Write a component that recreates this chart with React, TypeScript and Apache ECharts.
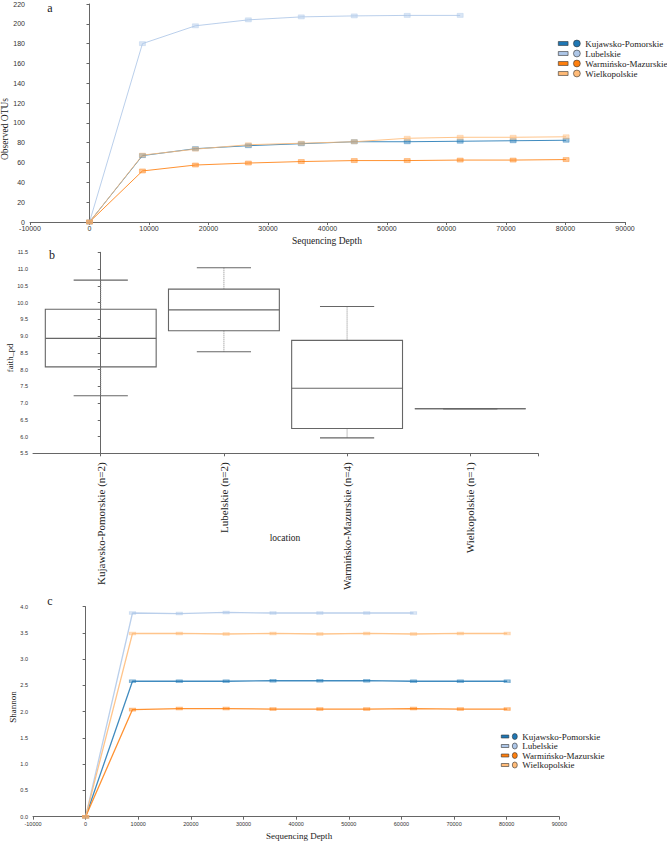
import React, { useEffect, useRef } from "react";
import * as echarts from "echarts";

const regions = ["Kujawsko-Pomorskie", "Lubelskie", "Warmińsko-Mazurskie", "Wielkopolskie"];
const colors = ["#1f77b4", "#aec7e8", "#ff7f0e", "#ffbb78"];

const depths = [0, 8900, 17800, 26700, 35600, 44500, 53400, 62300, 71200, 80100];

const otuKujawsko = [0, 67, 74, 77, 79, 81, 81, 81.5, 82, 82.5];
const otuLubelskie = [0, 180, 198, 204, 207, 208, 208.5, 208.5];
const otuWarminsko = [0, 51.5, 57.5, 59.5, 61, 62, 62, 62.5, 62.5, 63];
const otuWielkopolskie = [0, 67.5, 73.5, 78, 79.5, 81, 84.5, 85.5, 85.5, 86];

const boxCategories = [
  "Kujawsko-Pomorskie (n=2)",
  "Lubelskie (n=2)",
  "Warmińsko-Mazurskie (n=4)",
  "Wielkopolskie (n=1)",
];
// [min, q1, median, q3, max]
const faithKujawsko = [7.22, 8.08, 8.93, 9.8, 10.67];
const faithLubelskie = [8.53, 9.16, 9.78, 10.4, 11.04];
const faithWarminsko = [5.96, 6.24, 7.44, 8.87, 9.88];
const faithWielkopolskie = [6.83, 6.83, 6.83, 6.83, 6.83];

const shannonKujawsko = [0, 2.58, 2.58, 2.58, 2.59, 2.59, 2.59, 2.58, 2.58, 2.58];
const shannonLubelskie = [0, 3.88, 3.87, 3.89, 3.88, 3.88, 3.88, 3.88];
const shannonWarminsko = [0, 2.04, 2.06, 2.06, 2.05, 2.05, 2.05, 2.06, 2.05, 2.05];
const shannonWielkopolskie = [0, 3.49, 3.49, 3.48, 3.49, 3.48, 3.49, 3.48, 3.49, 3.49];

const depthTicks = { min: -10000, max: 90000, interval: 10000 };

const SERIF = "'Liberation Serif', 'Times New Roman', serif";
const SANS = "'Liberation Sans', Arial, sans-serif";

export default function App() {
  const ref = useRef<HTMLDivElement>(null);

  useEffect(() => {
    document.body.style.margin = "0";
    if (!ref.current) return;
    const chart = echarts.init(ref.current, null, { renderer: "svg" });

    const otu = [otuKujawsko, otuLubelskie, otuWarminsko, otuWielkopolskie];
    const shannon = [shannonKujawsko, shannonLubelskie, shannonWarminsko, shannonWielkopolskie];
    const faith = [faithKujawsko, faithLubelskie, faithWarminsko, faithWielkopolskie];

    const axisLine = { show: true, lineStyle: { color: "#666", width: 1 } };
    const axisTick = { show: true, length: 3, lineStyle: { color: "#666" } };
    const plain = (v: number) => String(v);

    const lineSeries = (vals: number[][], axis: number, width: number, size: number[]) =>
      regions.map((name, k) => ({
        type: "line",
        name,
        xAxisIndex: axis,
        yAxisIndex: axis,
        data: vals[k].map((v, i) => [depths[i], v]),
        symbol: "rect",
        symbolSize: size,
        showSymbol: true,
        silent: true,
        lineStyle: { color: colors[k], width, opacity: 0.85 },
        itemStyle: { color: colors[k], opacity: 0.45, borderColor: colors[k], borderWidth: 0.8 },
        emphasis: { disabled: true },
      }));

    const legendCommon = {
      data: regions,
      orient: "vertical",
      selectedMode: false,
      itemStyle: { borderColor: "#333", borderWidth: 0.6, opacity: 1 },
    };

    const option: any = {
      animation: false,
      color: colors,
      grid: [
        { left: 30, top: 4, width: 595, height: 218 },
        { left: 33, top: 252.3, width: 505, height: 201 },
        { left: 33, top: 606.7, width: 526.3, height: 210 },
      ],
      legend: [
        {
          ...legendCommon,
          left: 553,
          top: 34,
          itemWidth: 22,
          itemHeight: 8,
          itemGap: 1,
          icon: "path://M0,2H10V6H0Z M15.5,4A3.5,3.5 0 1,1 22.5,4A3.5,3.5 0 1,1 15.5,4Z",
          textStyle: { fontFamily: SERIF, fontSize: 9, color: "#222" },
        },
        {
          ...legendCommon,
          left: 496,
          top: 727,
          itemWidth: 16,
          itemHeight: 7,
          itemGap: 0.5,
          icon: "path://M0,2H7.5V5H0Z M11,3.5A2.5,3 0 1,1 16,3.5A2.5,3 0 1,1 11,3.5Z",
          textStyle: { fontFamily: SERIF, fontSize: 9, color: "#222" },
        },
      ],
      xAxis: [
        {
          gridIndex: 0,
          type: "value",
          ...depthTicks,
          axisLine,
          axisTick,
          splitLine: { show: false },
          axisLabel: { fontSize: 7, fontFamily: SANS, color: "#333", margin: 3, formatter: plain },
        },
        {
          gridIndex: 1,
          type: "value",
          min: -0.55,
          max: 3.55,
          axisLine,
          axisTick: { ...axisTick, customValues: [0, 1, 2, 3, 3.55] },
          splitLine: { show: false },
          axisLabel: {
            customValues: [0, 1, 2, 3],
            formatter: (v: number) => boxCategories[Math.round(v)],
            rotate: 90,
            fontSize: 11,
            fontFamily: SERIF,
            color: "#222",
            margin: 9,
          },
        },
        {
          gridIndex: 2,
          type: "value",
          ...depthTicks,
          axisLine,
          axisTick,
          splitLine: { show: false },
          axisLabel: { fontSize: 5.5, fontFamily: SANS, color: "#333", margin: 4, formatter: plain },
        },
      ],
      yAxis: [
        {
          gridIndex: 0,
          type: "value",
          min: 0,
          max: 220,
          interval: 20,
          axisLine,
          axisTick,
          splitLine: { show: false },
          axisLabel: { fontSize: 7, fontFamily: SANS, color: "#333", margin: 5, formatter: plain },
        },
        {
          gridIndex: 1,
          type: "value",
          min: 5.5,
          max: 11.5,
          interval: 0.5,
          axisLine,
          axisTick,
          splitLine: { show: false },
          axisLabel: {
            fontSize: 5.5,
            fontFamily: SANS,
            color: "#333",
            margin: 5,
            formatter: (v: number) => v.toFixed(1),
          },
        },
        {
          gridIndex: 2,
          type: "value",
          min: 0,
          max: 4,
          interval: 0.5,
          axisLine,
          axisTick,
          splitLine: { show: false },
          axisLabel: {
            fontSize: 5.5,
            fontFamily: SANS,
            color: "#333",
            margin: 5,
            formatter: (v: number) => v.toFixed(1),
          },
        },
      ],
      series: [
        ...lineSeries(otu, 0, 1, [6, 4]),
        {
          type: "custom",
          name: "faith_pd",
          xAxisIndex: 1,
          yAxisIndex: 1,
          silent: true,
          data: faith.map((b, i) => [i, ...b]),
          encode: { x: 0, y: [1, 2, 3, 4, 5] },
          renderItem: (params: any, api: any) => {
            const x = api.value(0);
            const v = [1, 2, 3, 4, 5].map((k) => api.value(k));
            const unit = api.size([1, 0])[0];
            const boxHalf = unit * 0.45;
            const capHalf = unit * 0.22;
            const xc = api.coord([x, v[0]])[0];
            const y = v.map((val: number) => api.coord([x, val])[1]);
            const dotted = { stroke: "#888", lineWidth: 1, lineDash: [1, 1] };
            const solid = { stroke: "#666", lineWidth: 1.1, fill: "none" };
            return {
              type: "group",
              children: [
                { type: "line", shape: { x1: xc, y1: y[4], x2: xc, y2: y[3] }, style: dotted },
                { type: "line", shape: { x1: xc, y1: y[1], x2: xc, y2: y[0] }, style: dotted },
                { type: "line", shape: { x1: xc - capHalf, y1: y[4], x2: xc + capHalf, y2: y[4] }, style: solid },
                { type: "line", shape: { x1: xc - capHalf, y1: y[0], x2: xc + capHalf, y2: y[0] }, style: solid },
                {
                  type: "rect",
                  shape: { x: xc - boxHalf, y: y[3], width: boxHalf * 2, height: Math.max(y[1] - y[3], 0) },
                  style: solid,
                },
                { type: "line", shape: { x1: xc - boxHalf, y1: y[2], x2: xc + boxHalf, y2: y[2] }, style: solid },
              ],
            };
          },
        },
        ...lineSeries(shannon, 2, 1.3, [6, 3]),
      ],
      graphic: [
        { type: "text", x: 50, y: 8, style: { text: "a", font: `12px ${SERIF}`, fill: "#222", align: "center", verticalAlign: "middle" } },
        { type: "text", x: 5, y: 129, rotation: Math.PI / 2, style: { text: "Observed OTUs", font: `9.5px ${SERIF}`, fill: "#222", align: "center", verticalAlign: "middle" } },
        { type: "text", x: 327, y: 241, style: { text: "Sequencing Depth", font: `9.5px ${SERIF}`, fill: "#222", align: "center", verticalAlign: "middle" } },
        { type: "text", x: 52, y: 255, style: { text: "b", font: `12px ${SERIF}`, fill: "#222", align: "center", verticalAlign: "middle" } },
        { type: "text", x: 10, y: 358, rotation: Math.PI / 2, style: { text: "faith_pd", font: `8.5px ${SERIF}`, fill: "#222", align: "center", verticalAlign: "middle" } },
        { type: "text", x: 285, y: 538, style: { text: "location", font: `9.5px ${SERIF}`, fill: "#222", align: "center", verticalAlign: "middle" } },
        { type: "text", x: 50, y: 601, style: { text: "c", font: `12px ${SERIF}`, fill: "#222", align: "center", verticalAlign: "middle" } },
        { type: "text", x: 13, y: 707, rotation: Math.PI / 2, style: { text: "Shannon", font: `9px ${SERIF}`, fill: "#222", align: "center", verticalAlign: "middle" } },
        { type: "text", x: 299, y: 836, style: { text: "Sequencing Depth", font: `9px ${SERIF}`, fill: "#222", align: "center", verticalAlign: "middle" } },
      ],
    };

    chart.setOption(option);
    return () => chart.dispose();
  }, []);

  return <div ref={ref} style={{ width: 667, height: 845 }} />;
}
